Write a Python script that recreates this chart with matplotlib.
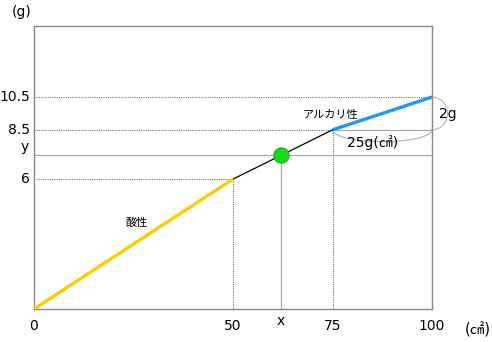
import numpy as np
import matplotlib
matplotlib.use("Agg")
import matplotlib.pyplot as plt

plt.rcParams['font.family'] = ['DejaVu Sans', 'Noto Sans CJK JP']

# data
seg_x = [0, 50, 75, 100]
seg_y = [0, 6, 8.5, 10.5]
x_point = 62
y_point = 7.2
xtick_vals = [0, 50, 75, 100]
xtick_labels = ['0', '50', '75', '100']
ytick_vals = [6, 8.5, 10.5]
ytick_labels = ['6', '8.5', '10.5']
label_acid = '酸性'
label_alk = 'アルカリ性'
label_2g = '2g'
label_25g = '25g(㎠)'

# schematic (non-linear) vertical scale
knots_y = np.array([0, 6, 8.5, 10.5, 14.83])
knots_f = np.array([0, 0.459, 0.633, 0.749, 1.0])
def fwd(v):
    return np.interp(np.asarray(v, dtype=float), knots_y, knots_f)
def inv(f):
    return np.interp(np.asarray(f, dtype=float), knots_f, knots_y)

fig = plt.figure(figsize=(4.92, 3.42), dpi=100)
ax = fig.add_axes([34/492, 33/342, 398/492, 283/342])
ax.set_yscale('function', functions=(fwd, inv))
ax.set_xlim(0, 100)
ax.set_ylim(0, 14.83)

frame_c = '#888888'
for s in ax.spines.values():
    s.set_color(frame_c)
    s.set_linewidth(1.0)
ax.set_xticks([])
ax.set_yticks([])
ax.minorticks_off()

dot_c = '#777777'
# guide lines
ax.plot([0, 100], [10.5, 10.5], color=dot_c, lw=0.8, ls=(0, (1, 1)))
ax.plot([0, 75], [8.5, 8.5], color=dot_c, lw=0.8, ls=(0, (1, 1)))
ax.plot([0.5, 50], [6, 6], color=dot_c, lw=0.8, ls=(0, (1, 1)))
ax.plot([50, 50], [0, 6], color=dot_c, lw=0.8, ls=(0, (1, 1)))
ax.plot([75, 75], [0, 8.5], color=dot_c, lw=0.8, ls=(0, (1, 1)))
ax.plot([75, 100], [8.5, 8.5], color='#aaaaaa', lw=0.9)
ax.plot([0, 100], [y_point, y_point], color='#aaaaaa', lw=0.9)
ax.plot([x_point, x_point], [0, y_point], color='#aaaaaa', lw=0.9)

# arcs
arc_c = '#bbbbbb'
t = np.linspace(-np.pi/2, np.pi/2, 100)
ax.plot(100 + 3.9*np.cos(t), 9.5 + 1.0*np.sin(t), color=arc_c, lw=0.9, clip_on=False)
t2 = np.linspace(np.pi, 2*np.pi, 100)
ax.plot(87.5 + 12.5*np.cos(t2), 8.5 + 0.6*np.sin(t2), color=arc_c, lw=0.9)

# main line
ax.plot(seg_x[1:3], seg_y[1:3], color='black', lw=0.9, zorder=3)
ax.plot(seg_x[0:2], seg_y[0:2], color='#FFCC00', lw=2.4, zorder=4, solid_capstyle='butt')
ax.plot(seg_x[2:4], seg_y[2:4], color='#1A98FF', lw=2.4, zorder=4, solid_capstyle='butt')
ax.plot([x_point], [y_point], 'o', ms=11, mfc='#11DD11', mec='#22AA22', mew=0.8, zorder=5)

fs = 10
xt = ax.get_xaxis_transform()
for v, l in zip(ytick_vals, ytick_labels):
    ax.text(-1.0, v, l, ha='right', va='center', fontsize=fs)
ax.text(-1.3, y_point + 0.05, 'y', ha='right', va='bottom', fontsize=fs)
for v, l in zip(xtick_vals, xtick_labels):
    ax.text(v, -0.060, l, ha='center', va='center', fontsize=fs, transform=xt)
ax.text(x_point, -0.043, 'x', ha='center', va='center', fontsize=fs, transform=xt)
ax.text(111.5, -0.074, '(㎠)', ha='center', va='center', fontsize=10.5, transform=xt)
ax.text(-3.0, 1.049, '(g)', ha='center', va='center', fontsize=fs, transform=xt)

ax.text(25.8, 4.0, label_acid, ha='center', va='center', fontsize=8)
ax.text(74.5, 9.4, label_alk, ha='center', va='center', fontsize=8)
ax.text(101.8, 9.45, label_2g, ha='left', va='center', fontsize=fs)
ax.text(85, 7.85, label_25g, ha='center', va='center', fontsize=fs)

fig.savefig('out.png', dpi=100)
